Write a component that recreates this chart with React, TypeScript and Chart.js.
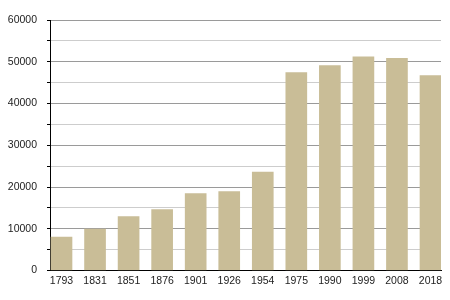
import React, { useEffect, useRef } from "react";
import { Chart, registerables } from "chart.js";

Chart.register(...registerables);

const years = ["1793", "1831", "1851", "1876", "1901", "1926", "1954", "1975", "1990", "1999", "2008", "2018"];
const population = [8000, 9900, 12900, 14600, 18400, 18900, 23600, 47400, 49100, 51200, 50800, 46700];
const yMax = 60000;
const yStep = 5000;
const yLabelStep = 10000;

export default function App() {
  const ref = useRef<HTMLCanvasElement | null>(null);
  useEffect(() => {
    if (!ref.current) return;
    const chart = new Chart(ref.current, {
      type: "bar",
      data: {
        datasets: [
          {
            data: population.map((v, i) => ({ x: i, y: v })),
            backgroundColor: "#c9bd97",
            borderWidth: 0,
            barThickness: 21,
          },
        ],
      },
      options: {
        animation: false,
        responsive: true,
        maintainAspectRatio: false,
        layout: { padding: { top: 20, right: 9, left: 0, bottom: 0 } },
        plugins: { legend: { display: false }, tooltip: { enabled: false } },
        scales: {
          x: {
            type: "linear",
            offset: false,
            min: -0.3428,
            max: 11.313,
            afterBuildTicks: (scale: any) => {
              scale.ticks = years.map((_, i) => ({ value: i }));
            },
            afterFit: (scale: any) => {
              scale.height = 29.5;
            },
            grid: { display: false, drawTicks: false, offset: false },
            border: { display: true, color: "#000", width: 1 },
            ticks: {
              autoSkip: false,
              maxRotation: 0,
              padding: 4,
              color: "#222",
              font: { family: "'Liberation Sans', Arial, sans-serif", size: 10.5 },
              callback: (v: any) => years[Math.round(Number(v))] ?? "",
            },
          },
          y: {
            min: 0,
            max: yMax,
            afterFit: (scale: any) => {
              scale.width = 50;
            },
            grid: {
              color: (ctx: any) => (ctx.tick && ctx.tick.value % yLabelStep === 0 ? "#9a9a9a" : "#cdcdcd"),
              tickColor: "#000",
              tickLength: 3,
              lineWidth: 1,
            },
            border: { display: true, color: "#000", width: 1 },
            ticks: {
              stepSize: yStep,
              autoSkip: false,
              padding: 10,
              color: "#222",
              font: { family: "'Liberation Sans', Arial, sans-serif", size: 10.5 },
              callback: (v: any) => (Number(v) % yLabelStep === 0 ? String(v) : ""),
            },
          },
        },
      },
    });
    return () => chart.destroy();
  }, []);
  return (
    <div style={{ position: "fixed", left: 0, top: 0, width: 450, height: 300, background: "#fff" }}>
      <canvas ref={ref} />
    </div>
  );
}
